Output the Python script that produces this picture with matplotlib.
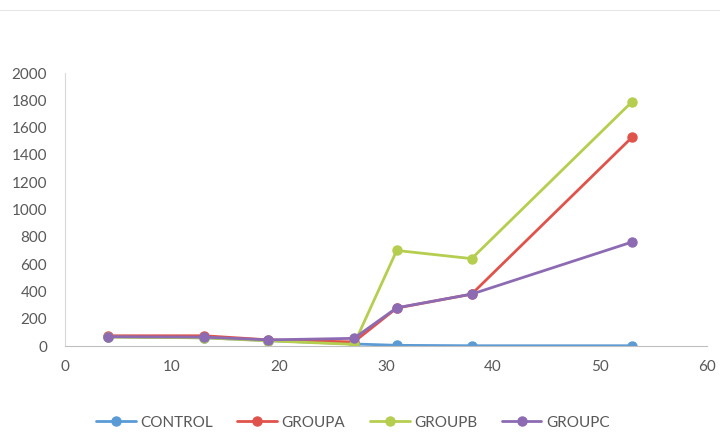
import matplotlib
matplotlib.use("Agg")
import matplotlib.pyplot as plt
from matplotlib.lines import Line2D

plt.rcParams['font.family'] = ['Lato', 'DejaVu Sans']

days = [4, 13, 19, 27, 31, 38, 53]
control = [68, 60, 40, 15, 5, 2, 2]
group_a = [75, 75, 45, 30, 278, 380, 1530]
group_b = [65, 60, 38, 12, 700, 640, 1790]
group_c = [68, 65, 45, 56, 280, 380, 762]

series = [
    ("CONTROL", control, "#5B9BD5"),
    ("GROUPA", group_a, "#E0534B"),
    ("GROUPB", group_b, "#B5CE50"),
    ("GROUPC", group_c, "#8C6BB3"),
]

text_col = "#595959"

fig = plt.figure(figsize=(7.2, 4.46), dpi=100)
ax = fig.add_axes([0.0903, 0.2242, 0.8917, 0.6121])

for name, vals, col in series:
    ax.plot(days, vals, color=col, lw=2.0, marker='o', markersize=6.5,
            label=name, solid_capstyle='round')

ax.set_xlim(0, 60)
ax.set_ylim(0, 2000)
ax.set_xticks(range(0, 61, 10))
ax.set_yticks(range(0, 2001, 200))
ax.tick_params(length=0, labelsize=11, labelcolor=text_col)
ax.tick_params(axis='x', pad=10)
ax.tick_params(axis='y', pad=13)
for s in ['top', 'right']:
    ax.spines[s].set_visible(False)
ax.spines['left'].set_color("#D9D9D9")
ax.spines['bottom'].set_color("#BFBFBF")
ax.spines['left'].set_linewidth(0.8)
ax.spines['bottom'].set_linewidth(0.8)

# faint line along the top of the image
fig.add_artist(Line2D([0, 1], [0.978, 0.978], color="#E6E6E6", lw=0.8,
                      transform=fig.transFigure))

leg = fig.legend(loc='center', bbox_to_anchor=(0.49, 0.052), ncol=4,
                 frameon=False, fontsize=11, handlelength=2.6,
                 columnspacing=1.6, handletextpad=0.3)
for t in leg.get_texts():
    t.set_color(text_col)

fig.savefig("out.png", dpi=100)
